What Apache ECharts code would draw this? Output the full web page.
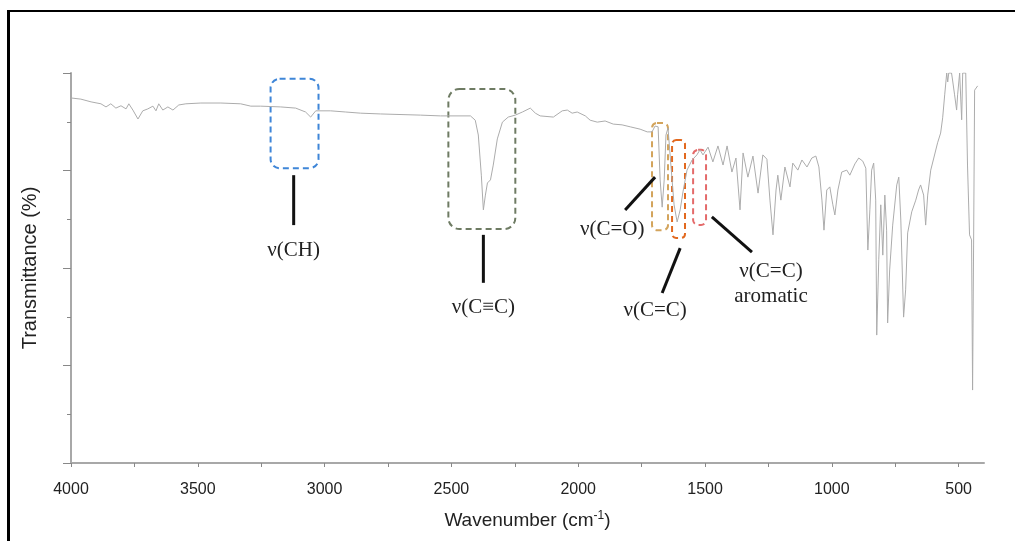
<!DOCTYPE html>
<html>
<head>
<meta charset="utf-8">
<script src="https://cdn.jsdelivr.net/npm/echarts@6/dist/echarts.min.js"></script>
<style>
  html, body { margin: 0; padding: 0; background: #fff; }
  #frame { position: absolute; left: 7px; top: 10px; width: 1020px; height: 540px;
           border-left: 3px solid #000; border-top: 2px solid #000; }
  #chart { position: absolute; left: 0; top: 0; width: 1015px; height: 541px; }
</style>
</head>
<body>
<div id="frame"></div>
<div id="chart"></div>
<script>
// wavenumber (cm-1) and transmittance (%)
var wavenumber = [
  4000, 3961, 3921, 3882, 3862, 3843, 3823, 3803, 3783, 3772, 3756, 3736, 3717, 3697, 3677, 3665,
  3654, 3638, 3618, 3598, 3575, 3547, 3488, 3409, 3331, 3291, 3252, 3173, 3114, 3075, 3055, 3035,
  2976, 2917, 2858, 2780, 2622, 2543, 2425, 2406, 2394, 2382, 2374, 2366, 2358, 2346, 2335, 2319,
  2299, 2276, 2248, 2220, 2189, 2169, 2150, 2098, 2063, 2043, 2024, 2004, 1972, 1953, 1925, 1894,
  1862, 1827, 1795, 1756, 1728, 1709, 1697, 1685, 1677, 1669, 1661, 1654, 1646, 1634, 1622, 1610,
  1598, 1587, 1571, 1551, 1532, 1520, 1508, 1488, 1469, 1449, 1429, 1413, 1394, 1378, 1362, 1350,
  1331, 1311, 1291, 1272, 1256, 1244, 1232, 1220, 1213, 1201, 1185, 1165, 1154, 1134, 1118, 1098,
  1079, 1063, 1051, 1039, 1031, 1020, 1008, 996, 988, 976, 961, 941, 929, 909, 894, 878,
  866, 858, 850, 843, 835, 827, 823, 815, 807, 799, 791, 784, 780, 772, 760, 744,
  736, 728, 717, 709, 701, 685, 669, 658, 650, 638, 630, 622, 610, 598, 583, 571,
  563, 555, 547, 543, 539, 528, 524, 516, 508, 504, 496, 488, 484, 472, 465, 457,
  449, 445, 441, 437, 425
]
var transmittance = [
  93.6, 93.3, 92.6, 92.1, 91.3, 92.1, 91.0, 91.6, 90.8, 92.1, 90.5, 88.2, 90.3, 90.8, 91.5, 90.3,
  92.1, 90.5, 91.3, 90.5, 91.8, 92.1, 92.3, 92.3, 92.1, 91.5, 91.5, 91.3, 91.0, 90.0, 88.7, 90.3,
  90.3, 90.0, 89.7, 89.5, 89.2, 89.0, 89.0, 87.9, 84.1, 73.8, 64.9, 68.7, 71.8, 72.6, 76.4, 83.1,
  87.4, 88.7, 89.2, 90.0, 91.0, 89.7, 89.0, 88.7, 90.3, 90.5, 89.7, 90.0, 89.0, 87.9, 87.4, 87.7,
  86.9, 86.7, 86.2, 85.6, 84.9, 84.9, 86.4, 86.2, 72.6, 65.6, 72.6, 84.1, 85.9, 75.9, 66.2, 61.8,
  64.9, 69.5, 75.1, 77.7, 79.0, 80.3, 79.0, 81.0, 77.2, 81.3, 76.4, 81.3, 74.6, 78.2, 64.9, 79.5,
  73.3, 78.7, 69.2, 79.0, 77.9, 67.4, 58.5, 70.0, 73.8, 67.4, 75.9, 70.8, 76.9, 75.1, 77.7, 75.9,
  78.2, 78.7, 75.9, 67.4, 59.7, 70.0, 70.8, 66.2, 63.6, 70.0, 74.6, 75.1, 73.8, 76.7, 78.2, 77.4,
  75.6, 54.6, 64.9, 75.1, 76.9, 67.4, 32.8, 52.1, 66.2, 53.3, 68.7, 59.7, 35.9, 49.5, 61.0, 71.3,
  73.3, 62.3, 37.4, 44.4, 59.0, 64.4, 67.4, 70.0, 71.3, 68.7, 61.0, 68.7, 75.1, 78.2, 82.1, 84.6,
  88.5, 94.4, 100, 97.7, 100, 100, 98.2, 94.4, 90.5, 94.4, 100, 88.0, 100, 100, 76.4, 58.5,
  57.2, 18.7, 55.9, 95.6, 96.7
]

var xTicks = [500, 750, 1000, 1250, 1500, 1750, 2000, 2250, 2500, 2750, 3000, 3250, 3500, 3750, 4000]
var xLabels = [500, 1000, 1500, 2000, 2500, 3000, 3500, 4000]

// annotation boxes: [wMax, wMin, tTop, tBottom], colour
var boxes = [
  { range: [3213, 3024, 98.5, 75.6], color: '#3f86d8', r: 9 },
  { range: [2512, 2248, 95.9, 60.0], color: '#6e7b63', r: 11 },
  { range: [1709, 1646, 87.2, 59.7], color: '#d3a45c', r: 5 },
  { range: [1630, 1579, 82.8, 57.7], color: '#e2691f', r: 4 },
  { range: [1547, 1496, 80.3, 61.0], color: '#e46a6a', r: 5 }
]
// leader lines: [w1, t1, w2, t2]
var leaders = [
  [3122, 73.8, 3122, 61.0],
  [2374, 58.5, 2374, 46.2],
  [1697, 73.3, 1815, 64.9],
  [1598, 55.1, 1669, 43.6],
  [1473, 63.1, 1315, 54.1]
]
// labels: [text, w, t]
var labels = [
  ['ν(CH)', 3122, 54.6],
  ['ν(C≡C)', 2374, 40.0],
  ['ν(C=O)', 1866, 60.0],
  ['ν(C=C)', 1697, 39.2],
  ['ν(C=C)', 1240, 49.0],
  ['aromatic', 1240, 42.6]
]

var spectrum = wavenumber.map(function (w, i) { return [w, transmittance[i]] })

var chart = echarts.init(document.getElementById('chart'))
chart.setOption({
  animation: false,
  grid: { left: 71, right: 31, top: 73, bottom: 78 },
  xAxis: {
    type: 'value',
    inverse: true,
    min: 400,
    max: 4000,
    name: 'Wavenumber (cm{sup|-1})',
    nameLocation: 'middle',
    nameGap: 47,
    nameTextStyle: {
      fontFamily: 'Liberation Sans', fontSize: 19, color: '#222',
      rich: { sup: { fontSize: 12, verticalAlign: 'top', padding: [0, 0, 9, 0], color: '#222' } }
    },
    axisLine: { lineStyle: { color: '#a8a8a8', width: 2 } },
    axisTick: { customValues: xTicks, length: 4, lineStyle: { color: '#888' } },
    axisLabel: {
      customValues: xLabels, margin: 19, fontFamily: 'Liberation Sans', fontSize: 16, color: '#222',
      formatter: function (v) { return String(v) }
    },
    splitLine: { show: false }
  },
  yAxis: {
    type: 'value',
    min: 0,
    max: 100,
    interval: 25,
    name: 'Transmittance (%)',
    nameLocation: 'middle',
    nameGap: 31,
    nameTextStyle: { fontFamily: 'Liberation Sans', fontSize: 20, color: '#222' },
    axisLine: { show: true, lineStyle: { color: '#a8a8a8', width: 2 } },
    axisTick: { show: true, length: 8, lineStyle: { color: '#888' } },
    minorTick: { show: true, splitNumber: 2, length: 4, lineStyle: { color: '#888' } },
    axisLabel: { show: false },
    splitLine: { show: false }
  },
  series: [{
    type: 'line',
    data: spectrum,
    showSymbol: false,
    clip: true,
    lineStyle: { color: '#acacac', width: 1 }
  }]
})

// annotations placed through the axes
function px(w, t) { return chart.convertToPixel({ seriesIndex: 0 }, [w, t]) }
var graphics = []
boxes.forEach(function (b) {
  var p1 = px(b.range[0], b.range[2])
  var p2 = px(b.range[1], b.range[3])
  graphics.push({
    type: 'rect',
    shape: { x: p1[0], y: p1[1], width: p2[0] - p1[0], height: p2[1] - p1[1], r: b.r },
    style: { fill: 'none', stroke: b.color, lineWidth: 2, lineDash: [6, 4] }
  })
})
leaders.forEach(function (l) {
  var a = px(l[0], l[1])
  var b = px(l[2], l[3])
  graphics.push({
    type: 'line',
    shape: { x1: a[0], y1: a[1], x2: b[0], y2: b[1] },
    style: { stroke: '#111', lineWidth: 3 }
  })
})
labels.forEach(function (t) {
  var p = px(t[1], t[2])
  graphics.push({
    type: 'text',
    x: p[0], y: p[1],
    style: {
      text: t[0], font: '21px "Liberation Serif"', fill: '#222',
      textAlign: 'center', textVerticalAlign: 'middle'
    }
  })
})
chart.setOption({ graphic: graphics })
</script>
</body>
</html>
